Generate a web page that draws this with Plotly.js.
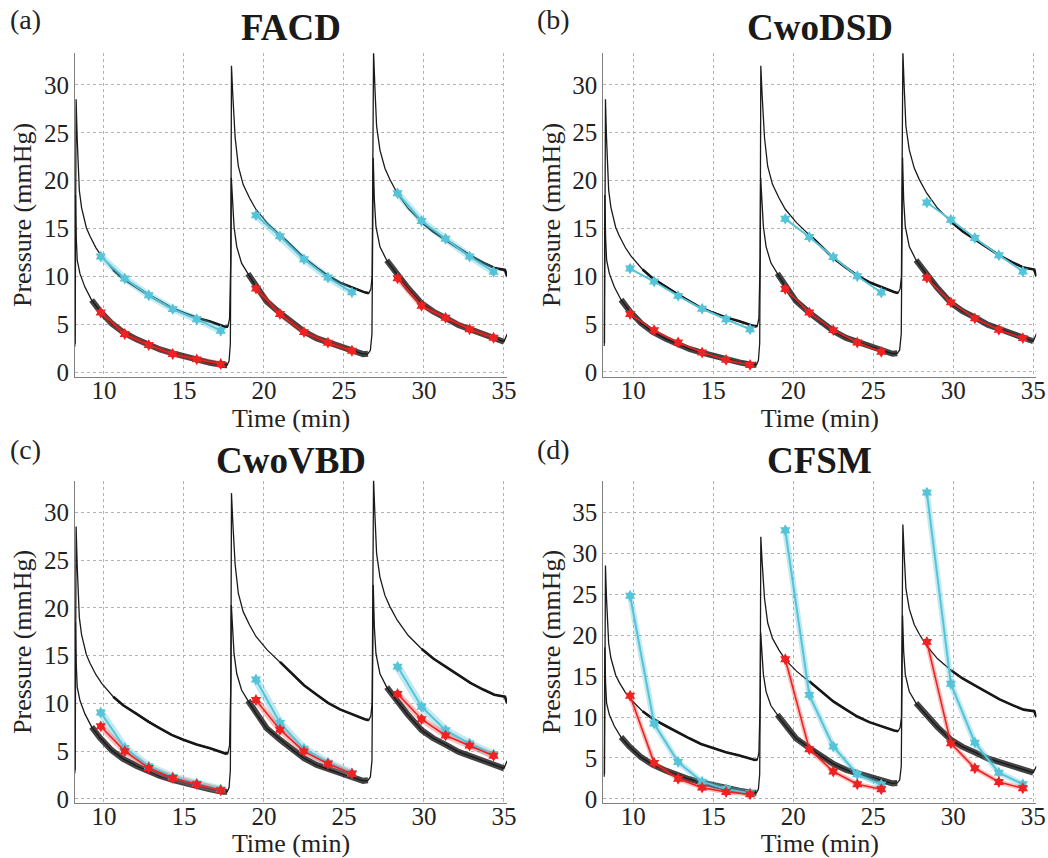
<!DOCTYPE html>
<html>
<head>
<meta charset="utf-8">
<script src="https://cdn.plot.ly/plotly-3.0.1.min.js"></script>
<style>
  html, body { margin: 0; padding: 0; background: #fff; }
  #chart { width: 1048px; height: 858px; }
</style>
</head>
<body>
<div id="chart"></div>
<script>
// ---------- data ----------
const panelTitles = ['FACD', 'CwoDSD', 'CwoVBD', 'CFSM'];
const panelLabels = ['(a)', '(b)', '(c)', '(d)'];
const xTickValues = [10, 15, 20, 25, 30, 35];
const yTickValues = [0, 5, 10, 15, 20, 25, 30];
const yTickValuesCFSM = [0, 5, 10, 15, 20, 25, 30, 35];

// measured pressure, upper (smooth) trace
const upperTime = [8.20, 8.26, 8.30, 8.33, 8.40, 8.46, 8.60, 8.71, 8.90, 9.13, 9.50, 9.86, 10.2, 10.58, 11.2, 12.04, 12.77, 13.5, 14.23, 14.96, 15.79, 16.63, 17.3, 17.6, 17.75, 17.85, 17.93,
  17.97, 18.05, 18.2, 18.4, 18.7, 19.1, 19.5, 20.2, 21.0, 21.8, 22.5, 23.3, 24.0, 24.75, 25.6, 26.3, 26.55, 26.68, 26.76,
  26.85, 26.94, 27.04, 27.25, 27.56, 27.88, 28.33, 29.02, 29.86, 30.58, 31.4, 32.15, 32.9, 33.7, 34.4, 35.06, 35.2];
const upperPressure = [3.0, 28.5, 26.0, 24.3, 21.0, 19.0, 17.2, 16.3, 15.1, 14.2, 13.0, 12.1, 11.4, 10.7, 9.8, 8.9, 8.1, 7.4, 6.7, 6.2, 5.7, 5.3, 4.9, 4.75, 4.8, 5.6, 12.0,
  32.0, 29.0, 24.5, 21.5, 19.6, 18.2, 17.0, 15.6, 14.35, 13.1, 11.9, 10.9, 10.06, 9.37, 8.77, 8.35, 8.25, 8.7, 10.0,
  33.5, 29.5, 25.7, 23.2, 21.3, 20.1, 18.7, 17.1, 15.7, 14.7, 13.8, 12.96, 12.15, 11.45, 10.9, 10.7, 10.0];

// measured pressure, lower (oscillating) trace
const lowerTime = [8.18, 8.22, 8.27, 8.33, 8.5, 8.81, 9.23, 9.75, 10.48, 11.2, 12.04, 12.77, 13.5, 14.33, 15.06, 15.8, 16.63, 17.4, 17.7, 17.82, 17.9,
  17.96, 18.04, 18.13, 18.3, 18.6, 19.0, 19.5, 20.17, 21.0, 21.83, 22.52, 23.3, 24.02, 24.75, 25.58, 26.2, 26.5, 26.65, 26.75,
  26.83, 26.9, 27.0, 27.25, 27.67, 28.33, 29.0, 29.86, 30.58, 31.4, 32.15, 32.9, 33.7, 34.4, 35.0, 35.2];
const lowerPressure = [2.7, 18.5, 14.0, 11.7, 10.3, 8.9, 7.55, 6.4, 5.1, 4.2, 3.45, 2.9, 2.4, 1.98, 1.63, 1.36, 1.0, 0.76, 0.75, 1.2, 3.0,
  20.3, 17.3, 15.2, 13.1, 11.4, 10.3, 8.95, 7.4, 6.2, 5.1, 4.25, 3.55, 3.1, 2.7, 2.26, 1.9, 1.95, 2.3, 4.0,
  22.4, 18.0, 15.2, 13.1, 11.7, 10.2, 8.8, 7.2, 6.35, 5.64, 4.94, 4.49, 4.0, 3.55, 3.2, 4.0];

// time windows where the traces look noisy / oscillating (drawn heavier)
const lowerOscWindows = [[9.0, 17.75], [18.9, 26.6], [27.6, 35.1]];
const upperNoisyWindows = [[10.3, 17.8], [20.5, 26.6], [29.3, 35.2]];

// model estimates at sample times (three infusion cycles)
const sampleTimes = [9.8, 11.3, 12.8, 14.3, 15.8, 17.3, 19.5, 21.0, 22.5, 24.0, 25.5, 28.35, 29.85, 31.35, 32.85, 34.35];
const sampleCycle = [1, 1, 1, 1, 1, 1, 2, 2, 2, 2, 2, 3, 3, 3, 3, 3];

const facdCyan   = [12.1, 9.8, 8.05, 6.6, 5.55, 4.35, 16.4, 14.2, 11.8, 9.9, 8.35, 18.7, 15.8, 13.95, 12.1, 10.5];
const facdRed    = [6.25, 4.0, 2.85, 1.92, 1.36, 0.87, 8.74, 6.1, 4.2, 3.1, 2.26, 9.82, 6.95, 5.7, 4.5, 3.62];
const cwodsdCyan = [10.8, 9.45, 7.95, 6.6, 5.5, 4.45, 16.0, 14.1, 12.0, 10.0, 8.3, 17.7, 15.9, 14.0, 12.2, 10.5];
const cwodsdRed  = [6.05, 4.35, 3.07, 2.02, 1.26, 0.73, 8.67, 6.2, 4.37, 3.07, 2.1, 9.83, 7.27, 5.6, 4.4, 3.53];
const cwovbdCyan = [9.05, 5.35, 3.4, 2.3, 1.6, 1.0, 12.5, 7.95, 5.25, 3.8, 2.7, 13.85, 9.65, 7.2, 5.8, 4.65];
const cwovbdRed  = [7.6, 5.0, 3.25, 2.2, 1.55, 0.92, 10.35, 7.25, 4.98, 3.68, 2.65, 11.0, 8.35, 6.65, 5.58, 4.52];
const cfsmCyan   = [24.8, 9.2, 4.5, 2.1, 1.2, 0.7, 32.8, 12.7, 6.4, 3.0, 1.75, 37.4, 14.05, 6.87, 3.2, 1.79];
const cfsmRed    = [12.6, 4.4, 2.45, 1.38, 0.85, 0.57, 17.05, 6.07, 3.35, 1.79, 1.18, 19.17, 6.78, 3.74, 2.07, 1.3];

// ---------- build ----------
const CYAN = '#56c4d8', RED = '#ee2222';
const CYAN_BAND = 'rgba(86,196,216,0.35)', RED_BAND = 'rgba(238,34,34,0.28)';
const FONT = 'Liberation Serif';

function splitByCycle(xs, ys, cyc) {
  const X = [], Y = [];
  for (let i = 0; i < xs.length; i++) {
    if (i > 0 && cyc[i] !== cyc[i - 1]) { X.push(null); Y.push(null); }
    X.push(xs[i]); Y.push(ys[i]);
  }
  return { x: X, y: Y };
}
function inWindows(xs, ys, wins) {
  const X = [], Y = [];
  wins.forEach((w, k) => {
    if (k > 0) { X.push(null); Y.push(null); }
    for (let i = 0; i < xs.length; i++) {
      if (xs[i] >= w[0] && xs[i] <= w[1]) { X.push(xs[i]); Y.push(ys[i]); }
    }
  });
  return { x: X, y: Y };
}

const panels = [
  { cyan: facdCyan,   red: facdRed,   band: 7, col: 0, row: 0, yTicks: yTickValues,     yRange: [-0.45, 33.3] },
  { cyan: cwodsdCyan, red: cwodsdRed, band: 0, col: 1, row: 0, yTicks: yTickValues,     yRange: [-0.5, 33.3] },
  { cyan: cwovbdCyan, red: cwovbdRed, band: 8, col: 0, row: 1, yTicks: yTickValues,     yRange: [-0.42, 33.3] },
  { cyan: cfsmCyan,   red: cfsmRed,   band: 6, col: 1, row: 1, yTicks: yTickValuesCFSM, yRange: [-0.5, 38.85] }
];

const colDomains = [[75 / 1048, 507 / 1048], [603.3 / 1048, 1036.3 / 1048]];
const colRanges = [[8.19, 35.19], [8.125, 35.19]];
const rowDomains = [[1 - 376.7 / 858, 1 - 53.3 / 858], [1 - 803 / 858, 1 - 480.7 / 858]];
const titleOffsets = [25.5, 20];

const traces = [];
const layout = {
  width: 1048, height: 858,
  margin: { l: 0, r: 0, t: 0, b: 0 },
  paper_bgcolor: '#fff', plot_bgcolor: '#fff',
  showlegend: false,
  font: { family: FONT, color: '#222', size: 25 },
  annotations: []
};

const lowerOsc = inWindows(lowerTime, lowerPressure, lowerOscWindows);
const upperNoisy = inWindows(upperTime, upperPressure, upperNoisyWindows);

panels.forEach((p, i) => {
  const n = i + 1;
  const xa = n === 1 ? 'x' : 'x' + n;
  const ya = n === 1 ? 'y' : 'y' + n;
  const xKey = n === 1 ? 'xaxis' : 'xaxis' + n;
  const yKey = n === 1 ? 'yaxis' : 'yaxis' + n;

  traces.push({ type: 'scatter', mode: 'lines', x: lowerOsc.x, y: lowerOsc.y, xaxis: xa, yaxis: ya,
    line: { color: 'rgba(20,20,20,0.8)', width: 6 }, hoverinfo: 'skip' });
  traces.push({ type: 'scatter', mode: 'lines', x: lowerTime, y: lowerPressure, xaxis: xa, yaxis: ya,
    line: { color: '#1a1a1a', width: 1.3 }, hoverinfo: 'skip' });
  traces.push({ type: 'scatter', mode: 'lines', x: upperNoisy.x, y: upperNoisy.y, xaxis: xa, yaxis: ya,
    line: { color: '#111', width: 2.6 }, hoverinfo: 'skip' });
  traces.push({ type: 'scatter', mode: 'lines', x: upperTime, y: upperPressure, xaxis: xa, yaxis: ya,
    line: { color: '#1a1a1a', width: 1.3 }, hoverinfo: 'skip' });

  const c = splitByCycle(sampleTimes, p.cyan, sampleCycle);
  const r = splitByCycle(sampleTimes, p.red, sampleCycle);
  if (p.band > 0) {
    traces.push({ type: 'scatter', mode: 'lines', x: c.x, y: c.y, xaxis: xa, yaxis: ya,
      line: { color: CYAN_BAND, width: p.band }, hoverinfo: 'skip' });
    traces.push({ type: 'scatter', mode: 'lines', x: r.x, y: r.y, xaxis: xa, yaxis: ya,
      line: { color: RED_BAND, width: p.band * 0.8 }, hoverinfo: 'skip' });
  }
  traces.push({ type: 'scatter', mode: 'lines+markers', x: c.x, y: c.y, xaxis: xa, yaxis: ya, name: 'cyan',
    line: { color: CYAN, width: 2 }, marker: { symbol: 'hexagram', size: 9, color: CYAN } });
  traces.push({ type: 'scatter', mode: 'lines+markers', x: r.x, y: r.y, xaxis: xa, yaxis: ya, name: 'red',
    line: { color: RED, width: 1.6 }, marker: { symbol: 'hexagram', size: 9, color: RED } });

  const axCommon = {
    showgrid: true, gridcolor: '#b2b2b2', griddash: 'dot', gridwidth: 1,
    zeroline: false, showline: true, linecolor: '#808080', linewidth: 1,
    ticks: '', tickfont: { family: FONT, size: 25, color: '#222' }, mirror: false
  };
  layout[xKey] = Object.assign({}, axCommon, {
    domain: colDomains[p.col], range: colRanges[p.col], tickvals: xTickValues,
    anchor: ya, ticklabelstandoff: -9,
    title: { text: 'Time (min)', font: { family: FONT, size: 26, color: '#222' }, standoff: 0 }
  });
  layout[yKey] = Object.assign({}, axCommon, {
    domain: rowDomains[p.row], range: p.yRange, tickvals: p.yTicks,
    anchor: xa,
    title: { text: 'Pressure (mmHg)', font: { family: FONT, size: 26, color: '#222' }, standoff: 4 }
  });

  const d = colDomains[p.col], rd = rowDomains[p.row];
  layout.annotations.push({
    text: '<b>' + panelTitles[i] + '</b>', xref: 'paper', yref: 'paper',
    x: (d[0] + d[1]) / 2, y: rd[1] + titleOffsets[p.row] / 858, xanchor: 'center', yanchor: 'middle',
    showarrow: false, font: { family: FONT, size: 37, color: '#1a1a1a' }
  });
  layout.annotations.push({
    text: panelLabels[i], xref: 'paper', yref: 'paper',
    x: (p.col === 0 ? 8 : 535) / 1048, y: 1 - ((p.row === 0 ? 20 : 449) / 858),
    xanchor: 'left', yanchor: 'middle', showarrow: false,
    font: { family: FONT, size: 28, color: '#222' }
  });
});

Plotly.newPlot('chart', traces, layout, { displayModeBar: false, staticPlot: true });
</script>
</body>
</html>
